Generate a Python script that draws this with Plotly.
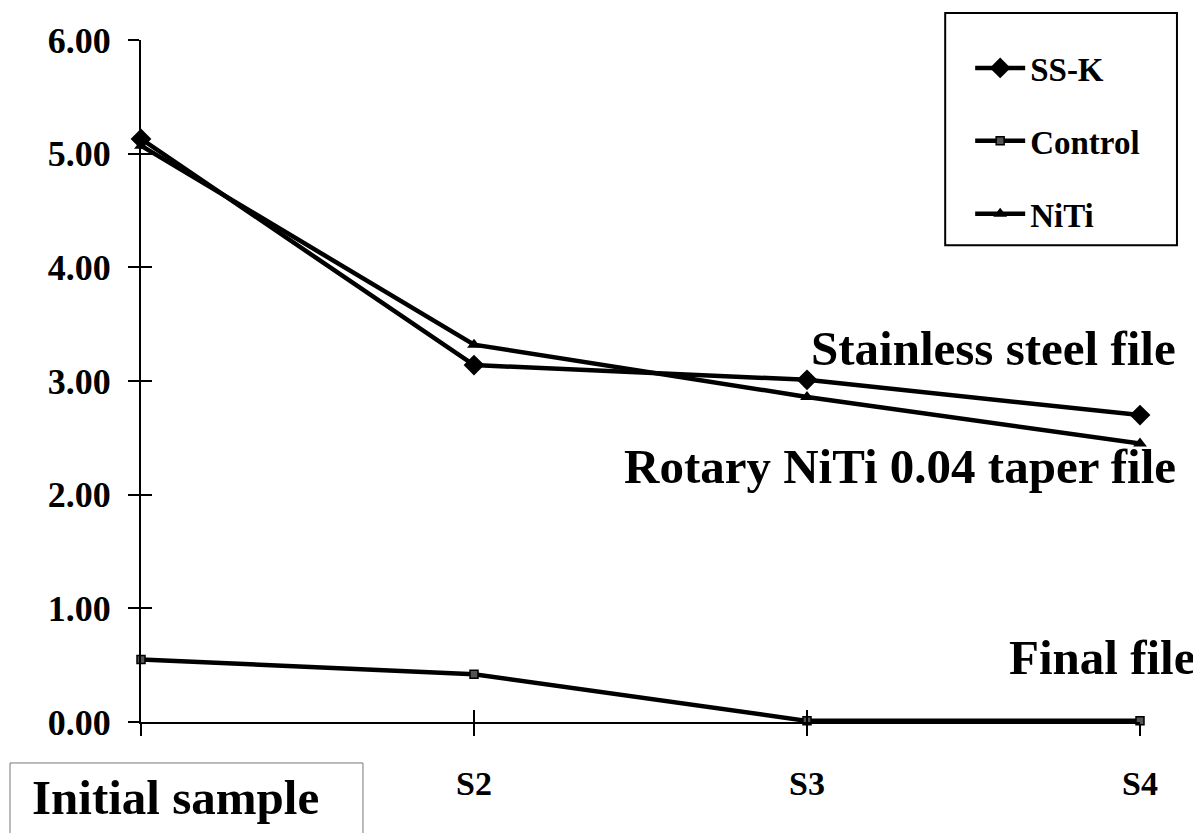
import plotly.graph_objects as go

categories = ["S1", "S2", "S3", "S4"]
tick_text = ["", "S2", "S3", "S4"]
ss_k = [5.13, 3.14, 3.01, 2.70]
control = [0.55, 0.42, 0.01, 0.01]
niti = [5.07, 3.32, 2.86, 2.45]
y_ticks = [0, 1, 2, 3, 4, 5, 6]
y_tick_text = ["0.00", "1.00", "2.00", "3.00", "4.00", "5.00", "6.00"]

FONT = "Liberation Serif, Times New Roman, serif"

fig = go.Figure()
fig.add_trace(go.Scatter(x=categories, y=ss_k, name="SS-K", mode="lines+markers",
                         line=dict(color="black", width=4.5),
                         marker=dict(symbol="diamond", size=16, color="black"),
                         cliponaxis=False, legendgroup="a"))
fig.add_trace(go.Scatter(x=categories, y=control, name="Control", mode="lines+markers",
                         line=dict(color="black", width=4.5),
                         marker=dict(symbol="square", size=8, color="#555555",
                                     line=dict(color="black", width=1.5)),
                         cliponaxis=False, legendgroup="b"))
fig.add_trace(go.Scatter(x=categories, y=niti, name="NiTi", mode="lines+markers",
                         line=dict(color="black", width=4.5),
                         marker=dict(symbol="triangle-up", size=12, color="black"),
                         cliponaxis=False, legendgroup="c"))
# helper trace for the inner half of the crossing ticks
fig.add_trace(go.Scatter(x=categories, y=[None] * 4, xaxis="x2", yaxis="y2",
                         showlegend=False, hoverinfo="skip", mode="lines"))

fig.update_layout(
    width=1201, height=833,
    margin=dict(l=133, r=69, t=32, b=119),
    paper_bgcolor="white", plot_bgcolor="white",
    font=dict(family=FONT, color="black", size=30, weight="bold"),
    xaxis=dict(type="category", categoryorder="array", categoryarray=categories,
               range=[0, 3], tickvals=categories, ticktext=tick_text,
               showgrid=False, zeroline=False, showline=True, linecolor="black",
               linewidth=2, ticks="outside", ticklen=12, tickwidth=2,
               tickcolor="black", ticklabelstandoff=18,
               tickfont=dict(size=34, family=FONT, weight="bold")),
    yaxis=dict(range=[0, 6], tickvals=y_ticks, ticktext=y_tick_text,
               showgrid=False, zeroline=False, showline=True, linecolor="black",
               linewidth=2, ticks="outside", ticklen=11, tickwidth=2,
               tickcolor="black", ticklabelstandoff=10,
               tickfont=dict(size=36, family=FONT, weight="bold")),
    xaxis2=dict(type="category", categoryorder="array", categoryarray=categories,
                range=[0, 3], overlaying="x", anchor="y2", side="bottom",
                tickvals=categories, showticklabels=False, showgrid=False,
                zeroline=False, showline=False, ticks="inside", ticklen=12,
                tickwidth=2, tickcolor="black"),
    yaxis2=dict(range=[0, 6], overlaying="y", anchor="x2", side="left",
                tickvals=y_ticks, showticklabels=False, showgrid=False,
                zeroline=False, showline=False, ticks="inside", ticklen=11,
                tickwidth=2, tickcolor="black"),
    legend=dict(x=0.83, y=1.0, xanchor="left", yanchor="top",
                bgcolor="rgba(0,0,0,0)", borderwidth=0,
                font=dict(size=33, family=FONT, weight="bold"),
                tracegroupgap=27, itemwidth=50),
    showlegend=True,
)

# legend frame
fig.add_shape(type="rect", xref="paper", yref="paper",
              x0=0.805, x1=1.037, y0=0.699, y1=1.0396,
              line=dict(color="black", width=2), fillcolor="rgba(0,0,0,0)")
# "Initial sample" frame
fig.add_shape(type="rect", xref="paper", yref="paper",
              x0=-0.1311, x1=0.2222, y0=-0.19, y1=-0.0601,
              line=dict(color="#777777", width=1), fillcolor="rgba(0,0,0,0)")

ann_font = dict(size=49, family=FONT, color="black", weight="bold")
fig.add_annotation(text="Stainless steel file", xref="paper", yref="paper",
                   x=1.038, y=0.548, xanchor="right", yanchor="middle",
                   showarrow=False, font=ann_font)
fig.add_annotation(text="Rotary NiTi 0.04 taper file", xref="paper", yref="paper",
                   x=1.038, y=0.374, xanchor="right", yanchor="middle",
                   showarrow=False, font=ann_font)
fig.add_annotation(text="Final file", xref="paper", yref="paper",
                   x=1.057, y=0.0953, xanchor="right", yanchor="middle",
                   showarrow=False, font=ann_font)
fig.add_annotation(text="Initial sample", xref="paper", yref="paper",
                   x=-0.111, y=-0.110, xanchor="left", yanchor="middle",
                   showarrow=False, font=ann_font)

fig.write_html("out.html")
